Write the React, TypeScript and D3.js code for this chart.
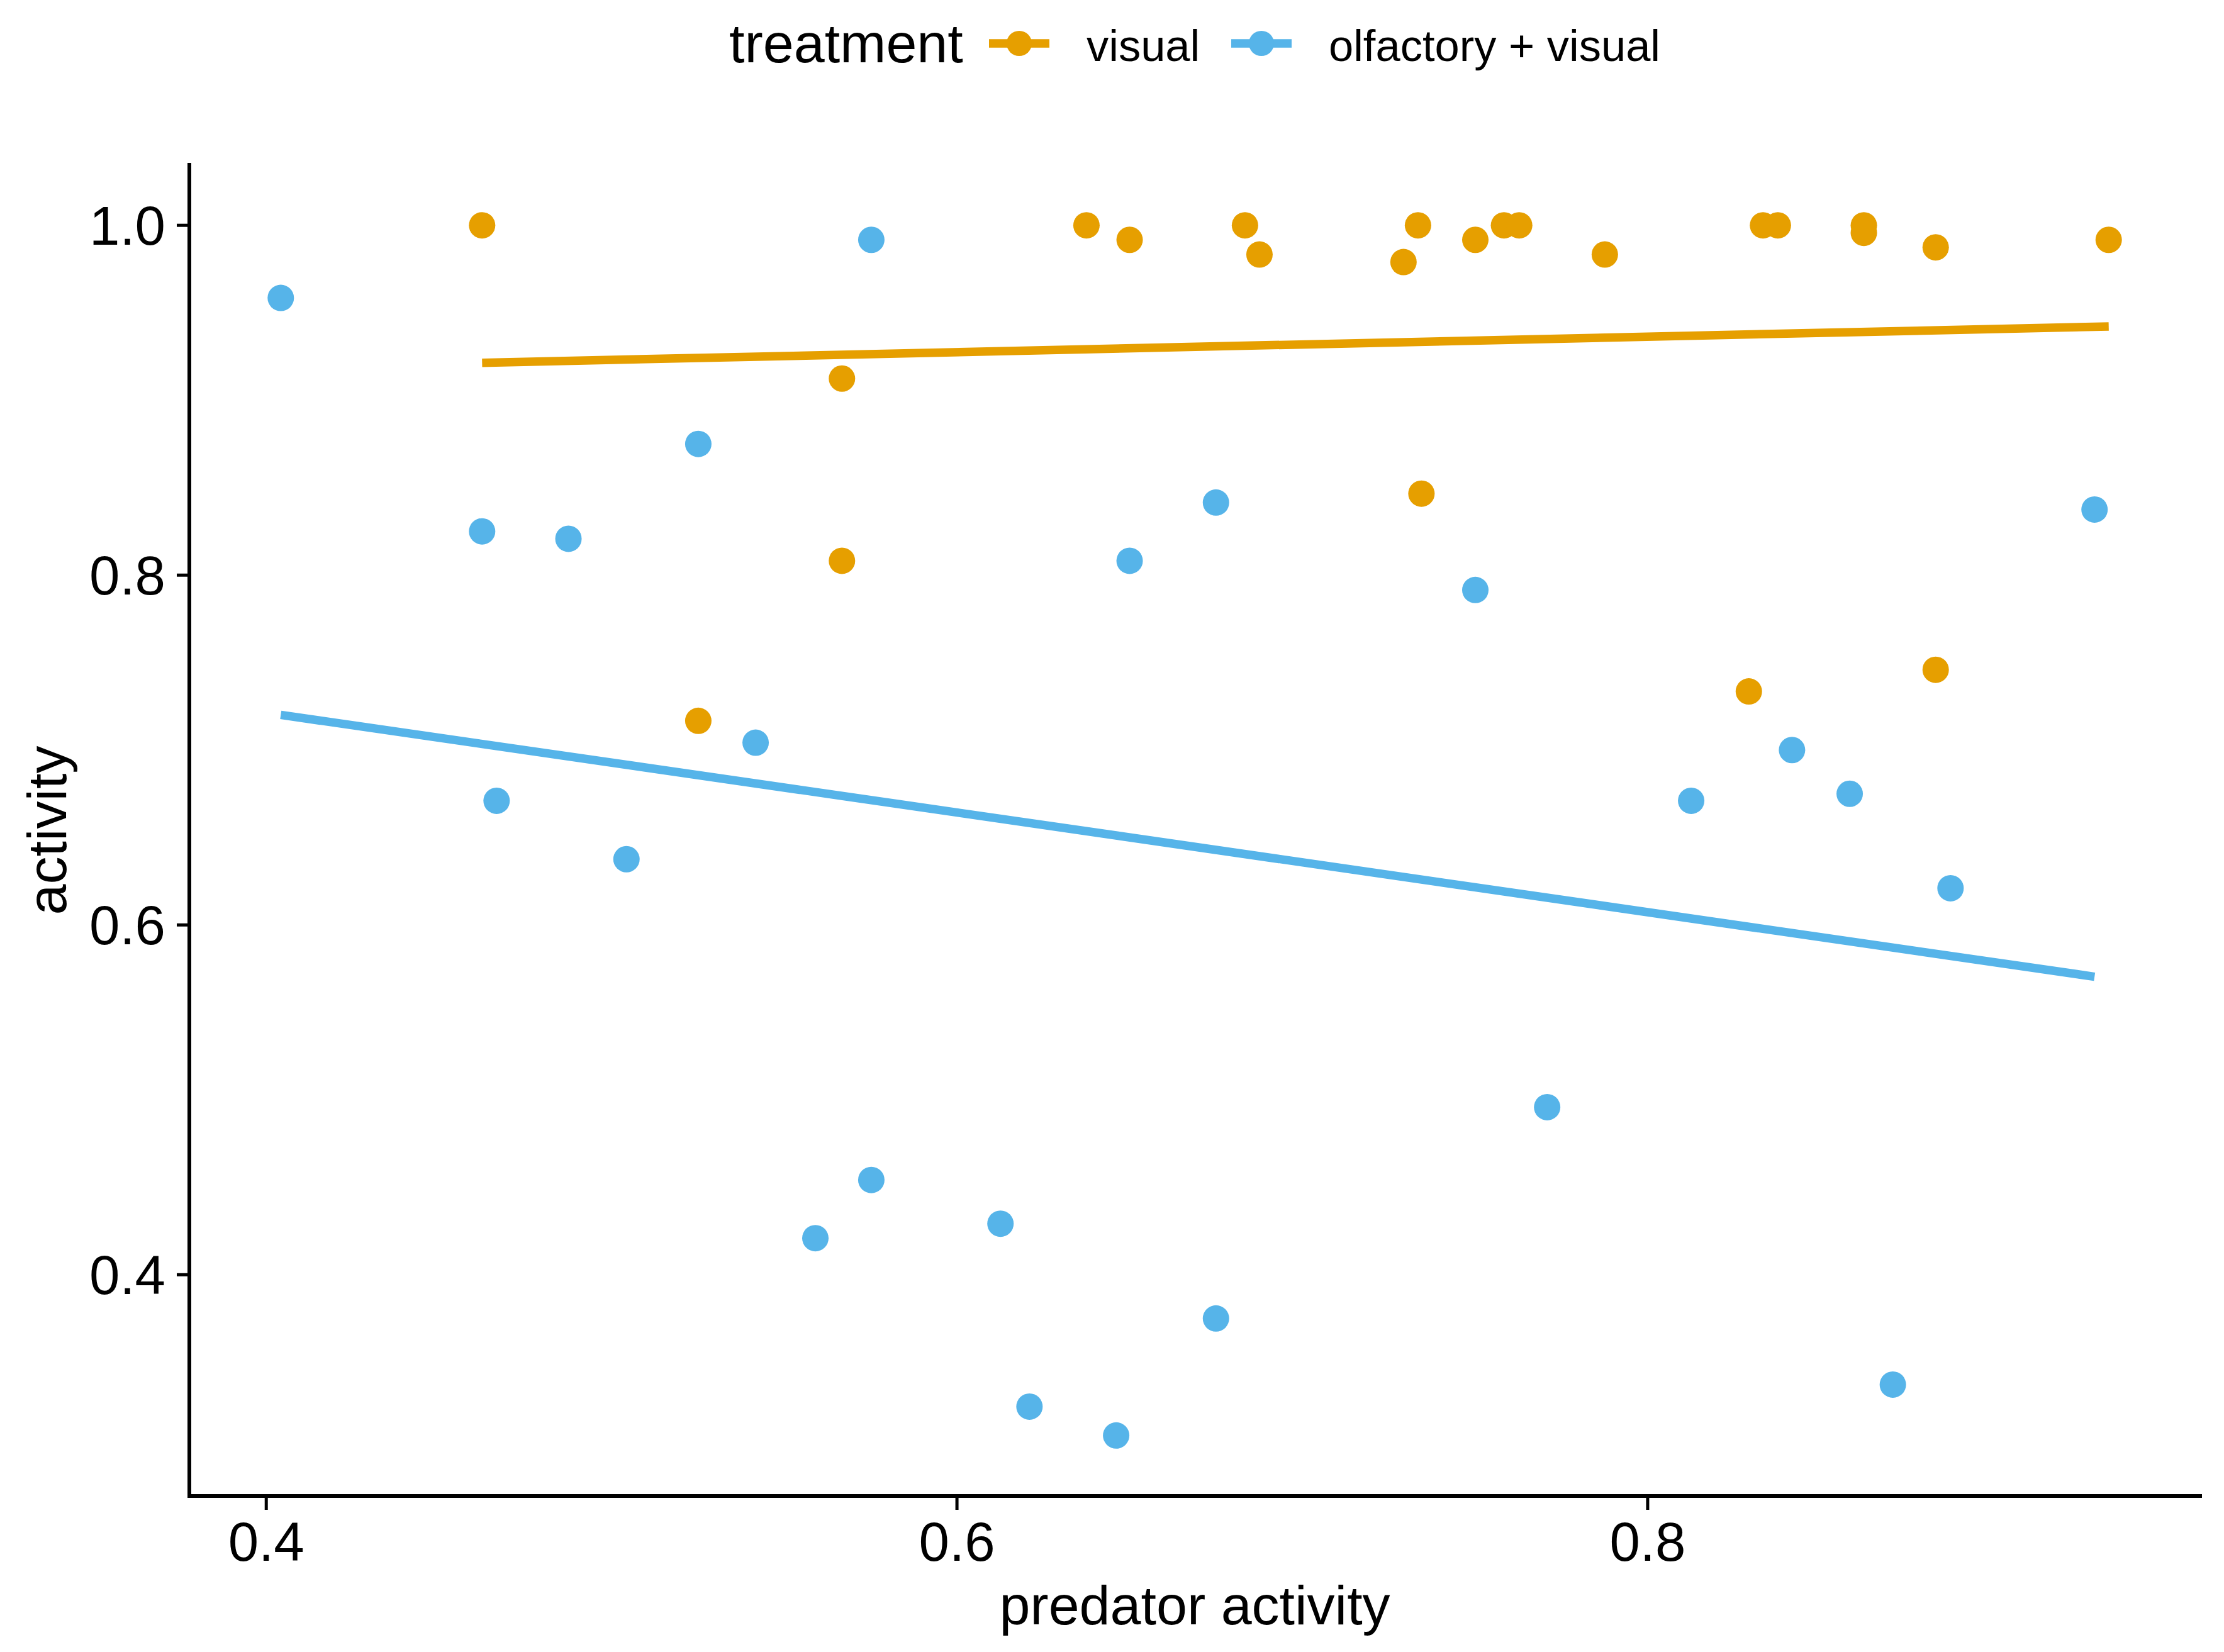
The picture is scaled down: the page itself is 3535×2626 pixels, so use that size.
import * as d3 from "d3";

// treatment groups
const groups = ["visual", "olfactory + visual"];
const groupColors = ["#E69F00", "#56B4E9"];

// visual: predator activity / activity
const visualX = [
  0.4625, 0.5667, 0.5667, 0.5251, 0.6375, 0.65, 0.6834, 0.6876, 0.7293, 0.7335, 0.7345, 0.7501,
  0.7584, 0.7628, 0.7876, 0.8293, 0.8334, 0.8377, 0.8626, 0.8626, 0.8834, 0.8834, 0.9335,
];
const visualY = [
  1.0, 0.9124, 0.8082, 0.7167, 1.0, 0.9917, 1.0, 0.9833, 0.979, 1.0, 0.8466, 0.9917,
  1.0, 1.0, 0.9833, 0.7335, 1.0, 1.0, 1.0, 0.9957, 0.9874, 0.7459, 0.9917,
];

// olfactory + visual
const olfactoryX = [
  0.4042, 0.5752, 0.5251, 0.4625, 0.4875, 0.675, 0.65, 0.7501, 0.9294, 0.5417, 0.4667, 0.5043,
  0.8126, 0.8418, 0.8585, 0.8877, 0.7709, 0.5752, 0.559, 0.6126, 0.675, 0.621, 0.6461, 0.871,
];
const olfactoryY = [
  0.9585, 0.9917, 0.875, 0.825, 0.8208, 0.8415, 0.8082, 0.7915, 0.8375, 0.7042, 0.671, 0.6376,
  0.671, 0.7, 0.675, 0.621, 0.4958, 0.4542, 0.4209, 0.4292, 0.375, 0.3246, 0.3081, 0.3372,
];

// fitted (lm) values at the min / max x of each group
const visualFit = [0.9214, 0.9422];
const olfactoryFit = [0.7201, 0.5704];

const xTicks = [0.4, 0.6, 0.8];
const yTicks = [0.4, 0.6, 0.8, 1.0];

const W = 3535;
const H = 2626;
const margin = { top: 262, right: 38, bottom: 248, left: 301 };
const FONT = "'Liberation Sans', Arial, Helvetica, sans-serif";

const series = [
  { name: groups[0], color: groupColors[0], xs: visualX, ys: visualY, fit: visualFit },
  { name: groups[1], color: groupColors[1], xs: olfactoryX, ys: olfactoryY, fit: olfactoryFit },
];

// ggplot style 5% expansion
const expand = (lo: number, hi: number): [number, number] => {
  const pad = (hi - lo) * 0.05;
  return [lo - pad, hi + pad];
};

const App = () => {
  const allX = [...visualX, ...olfactoryX];
  const allY = [...visualY, ...olfactoryY];
  const [x0, x1] = d3.extent(allX) as [number, number];
  const [y0, y1] = d3.extent(allY) as [number, number];

  const x = d3.scaleLinear().domain(expand(x0, x1)).range([margin.left, W - margin.right]);
  const y = d3.scaleLinear().domain(expand(y0, y1)).range([H - margin.bottom, margin.top]);

  const line = d3
    .line<[number, number]>()
    .x((d) => x(d[0]))
    .y((d) => y(d[1]));

  const left = margin.left;
  const bottom = H - margin.bottom;
  const tickLen = 20;

  return (
    <svg
      width={W}
      height={H}
      style={{ position: "absolute", left: 0, top: 0, background: "#fff" }}
      fontFamily={FONT}
    >
      <rect width={W} height={H} fill="#fff" />

      {/* points */}
      {series.map((s) =>
        s.xs.map((v, i) => (
          <circle key={s.name + i} cx={x(v)} cy={y(s.ys[i])} r={21} fill={s.color} />
        ))
      )}

      {/* fit lines */}
      {series.map((s) => {
        const [mn, mx] = d3.extent(s.xs) as [number, number];
        return (
          <path
            key={"fit" + s.name}
            d={line([
              [mn, s.fit[0]],
              [mx, s.fit[1]],
            ]) as string}
            stroke={s.color}
            strokeWidth={13.5}
            fill="none"
          />
        );
      })}

      {/* axes */}
      <line x1={left} x2={W - margin.right} y1={bottom} y2={bottom} stroke="#000" strokeWidth={6} strokeLinecap="square" />
      <line x1={left} x2={left} y1={margin.top} y2={bottom} stroke="#000" strokeWidth={6} strokeLinecap="square" />

      {xTicks.map((t) => (
        <g key={"xt" + t}>
          <line x1={x(t)} x2={x(t)} y1={bottom} y2={bottom + tickLen + 2} stroke="#000" strokeWidth={5} />
          <text x={x(t)} y={bottom + 103} textAnchor="middle" fontSize={87} fill="#000">
            {d3.format(".1f")(t)}
          </text>
        </g>
      ))}

      {yTicks.map((t) => (
        <g key={"yt" + t}>
          <line x1={left - tickLen} x2={left} y1={y(t)} y2={y(t)} stroke="#000" strokeWidth={5} />
          <text x={left - 38} y={y(t) + 31} textAnchor="end" fontSize={87} fill="#000">
            {d3.format(".1f")(t)}
          </text>
        </g>
      ))}

      {/* axis titles */}
      <text x={(left + W - margin.right) / 2} y={2582} textAnchor="middle" fontSize={88} fill="#000">
        predator activity
      </text>
      <text
        transform={`translate(105, ${(margin.top + bottom) / 2}) rotate(-90)`}
        textAnchor="middle"
        fontSize={88}
        fill="#000"
      >
        activity
      </text>

      {/* legend */}
      <text x={1159} y={99} fontSize={88} fill="#000">
        treatment
      </text>
      {series.map((s, i) => {
        const kx = i === 0 ? 1620 : 2005;
        return (
          <g key={"lg" + s.name}>
            <line x1={kx - 48} x2={kx + 48} y1={69} y2={69} stroke={s.color} strokeWidth={13.5} />
            <circle cx={kx} cy={69} r={20} fill={s.color} />
            <text x={kx + 107} y={97} fontSize={70.5} fill="#000">
              {s.name}
            </text>
          </g>
        );
      })}
    </svg>
  );
};

export default App;
